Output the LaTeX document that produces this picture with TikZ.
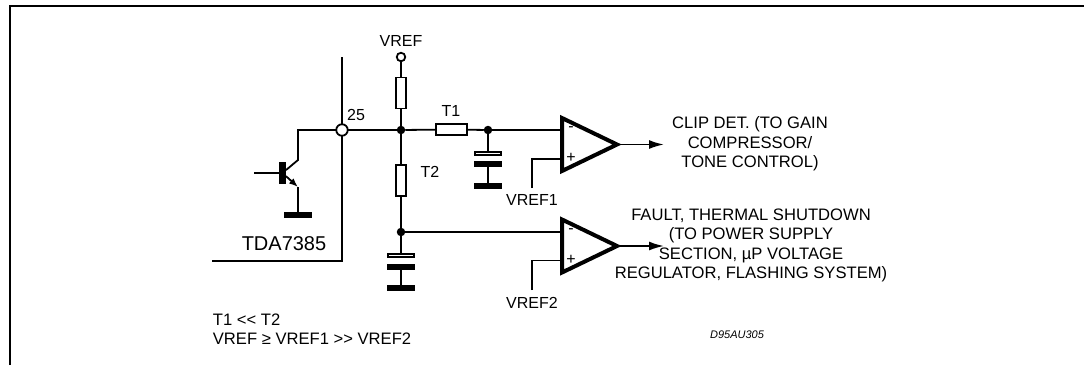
\documentclass[tikz,border=0pt]{standalone}
\usepackage{fontspec}
\setmainfont{Liberation Sans}
\usetikzlibrary{arrows.meta}

\begin{document}
\begin{tikzpicture}[x=1pt, y=-1pt, line width=1.8pt]
        % Define part styles
        \tikzstyle{label} = [inner sep=0pt, align=center, font=\fontsize{16}{19.6}\selectfont]
        \tikzstyle{textblock} = [label, font=\fontsize{16.6}{19.6}\selectfont]
        \tikzstyle{resistor} = [rectangle, draw, fill=white, outer sep=0pt, inner sep=0pt, minimum width=10.5pt, minimum height=31pt]
        \tikzstyle{hresistor} = [resistor, minimum width=31.5pt, minimum height=10.5pt]
        \tikzstyle{plate} = [rectangle, draw, fill=white, outer sep=0pt, inner sep=0pt, minimum width=26.5pt, minimum height=3.5pt]
        \tikzstyle{bar} = [rectangle, fill=black, outer sep=0pt, inner sep=0pt, minimum width=28pt, minimum height=6pt]
        \tikzstyle{dot} = [circle, fill=black, outer sep=0pt, inner sep=0pt, minimum size=8.5pt]
        \tikzstyle{pin} = [circle, draw, fill=white, outer sep=0pt, inner sep=0pt]
        \tikzstyle{opamp} = [line width=4pt, line join=miter]
        \tikzstyle{output} = [-{Latex[length=15pt, width=9pt]}]

        \useasboundingbox (0,0) rectangle (1084,365);

        % Place the frame and chip outline points
        \coordinate (frame_bottom) at (10,365);
        \coordinate (frame_corner) at (10,6);
        \coordinate (frame_right) at (1084,6);
        \coordinate (chip_top) at (342,57);
        \coordinate (chip_corner) at (342,261);
        \coordinate (chip_left) at (212,261);

        % Place nodes
        \node [pin, minimum size=11.5pt] (pin_25) at (342,130) {};
        \node [pin, minimum size=8.5pt] (vref_pin) at (401,57) {};
        \node [dot] (junction_top) at (401,130) {};
        \node [dot] (junction_bottom) at (401,232) {};
        \node [dot] (junction_t1) at (488,130) {};
        \node [resistor] (r_top) at (401,93) {};
        \node [resistor] (r_t2) at (401,180.5) {};
        \node [hresistor] (r_t1) at (451.5,129.5) {};

        % Capacitors with their ground bars
        \node [plate] (cap_t1_plate) at (488,153.5) {};
        \node [bar] (cap_t1_bar) at (488,164) {};
        \node [bar] (cap_t1_gnd) at (488,186) {};
        \node [plate] (cap_t2_plate) at (401,255.5) {};
        \node [bar] (cap_t2_bar) at (401,266.5) {};
        \node [bar] (cap_t2_gnd) at (401,288) {};

        % Transistor
        \node [rectangle, fill=black, outer sep=0pt, inner sep=0pt, minimum width=7pt, minimum height=22pt] (q_base) at (282.5,173) {};
        \node [bar] (q_gnd) at (298,215) {};
        \coordinate (q_in) at (254,173);
        \coordinate (q_elbow) at (298,130);
        \coordinate (q_collector) at (298,160);
        \coordinate (q_emitter) at (298,187);

        % Op amps
        \coordinate (amp1_top) at (562,118);
        \coordinate (amp1_tip) at (617,144.5);
        \coordinate (amp1_bottom) at (562,171);
        \coordinate (amp2_top) at (562,219.5);
        \coordinate (amp2_tip) at (617,246);
        \coordinate (amp2_bottom) at (562,272.5);
        \coordinate (amp1_minus) at (562,130);
        \coordinate (amp1_plus) at (562,159);
        \coordinate (amp2_minus) at (562,232);
        \coordinate (amp2_plus) at (562,260.5);
        \coordinate (vref1_end) at (532,188);
        \coordinate (vref2_end) at (532,290);
        \coordinate (amp1_out) at (664,144.5);
        \coordinate (amp2_out) at (664,246);

        % Draw connections
        \draw [line width=2pt] (frame_bottom) -- (frame_corner) -- (frame_right);
        \draw (chip_top) -- (pin_25) -- (chip_corner) -- (chip_left);
        \draw (q_in) -- (q_base);
        \draw (pin_25) -- (q_elbow) -- (q_collector) -- (q_base);
        \draw [-{Latex[length=9pt, width=7pt]}] (q_base) -- (q_emitter);
        \draw (q_emitter) -- (q_gnd);
        \draw (pin_25) -- (junction_top);
        \draw (vref_pin) -- (r_top);
        \draw (r_top) -- (junction_top);
        \draw (junction_top) -- (r_t2);
        \draw (r_t2) -- (junction_bottom);
        \draw (junction_top) -- (r_t1);
        \draw (r_t1) -- (junction_t1);
        \draw (junction_t1) -- (amp1_minus);
        \draw (junction_t1) -- (cap_t1_plate);
        \draw (cap_t1_bar) -- (cap_t1_gnd);
        \draw (junction_bottom) -- (amp2_minus);
        \draw (junction_bottom) -- (cap_t2_plate);
        \draw (cap_t2_bar) -- (cap_t2_gnd);
        \draw (vref1_end) |- (amp1_plus);
        \draw (vref2_end) |- (amp2_plus);
        \draw [output] (amp1_tip) -- (amp1_out);
        \draw [output] (amp2_tip) -- (amp2_out);
        \draw [opamp] (amp1_top) -- (amp1_tip) -- (amp1_bottom) -- cycle;
        \draw [opamp] (amp2_top) -- (amp2_tip) -- (amp2_bottom) -- cycle;

        % Add labels
        \node [label] (vref_label) at (401,41) {VREF};
        \node [label] (pin_label) at (356,115) {25};
        \node [label] (t1_label) at (451,111) {T1};
        \node [label] (t2_label) at (430,172) {T2};
        \node [label, font=\fontsize{20}{24}\selectfont] (chip_label) at (284,244) {TDA7385};
        \node [label] (vref1_label) at (532,200) {VREF1};
        \node [label] (vref2_label) at (532,303) {VREF2};
        \node [label] (amp1_minus_sign) at (571,129) {-};
        \node [label] (amp1_plus_sign) at (571,158) {+};
        \node [label] (amp2_minus_sign) at (571,231) {-};
        \node [label] (amp2_plus_sign) at (571,260) {+};
        \node [textblock] (clip_text) at (750,144) {CLIP DET. (TO GAIN\\COMPRESSOR/\\TONE CONTROL)};
        \node [textblock] (fault_text) at (751,245.5) {FAULT, THERMAL SHUTDOWN\\(TO POWER SUPPLY\\SECTION, µP VOLTAGE\\REGULATOR, FLASHING SYSTEM)};
        \node [textblock, align=left, anchor=west] (notes) at (212,329) {T1 <\kern0pt< T2\\VREF ≥ VREF1 >\kern0pt> VREF2};
        \node [label, font=\fontsize{11}{13}\selectfont\itshape] (drawing_code) at (737,335) {D95AU305};
    \end{tikzpicture}
\end{document}
